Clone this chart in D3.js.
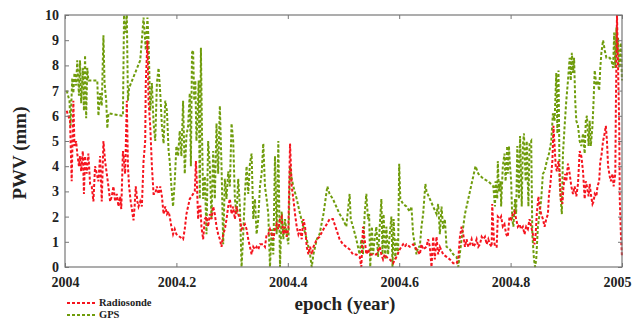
<!DOCTYPE html>
<html>
<head>
<meta charset="utf-8">
<script src="https://cdn.jsdelivr.net/npm/d3@7/dist/d3.min.js"></script>
<style>
  body { margin: 0; background: #fff; }
  svg { display: block; }
  .tick text { font-family: "Liberation Serif", "DejaVu Serif", serif; font-weight: bold; font-size: 14px; fill: #222; }
  .tick line { stroke: #777; }
</style>
</head>
<body>
<svg id="chart" width="632" height="321"></svg>
<script>
// epoch offsets are fractions of 2004, PWV in mm
const gpsT = [0.003,0.008,0.010,0.013,0.015,0.017,0.020,0.022,0.025,0.027,0.029,0.032,0.034,0.036,0.038,0.040,0.042,0.058,0.060,0.063,0.066,0.069,0.071,0.074,0.076,0.078,0.102,0.104,0.106,0.108,0.111,0.113,0.115,0.135,0.138,0.141,0.143,0.145,0.148,0.150,0.153,0.156,0.159,0.162,0.165,0.168,0.171,0.174,0.177,0.180,0.183,0.186,0.188,0.191,0.194,0.197,0.200,0.203,
  0.206,0.209,0.212,0.215,0.218,0.221,0.224,0.226,0.228,0.230,0.232,0.234,0.236,0.238,0.240,0.242,0.244,0.246,0.248,0.251,0.254,0.257,0.260,0.263,0.266,0.269,0.272,0.275,0.278,0.281,0.284,0.287,0.290,0.293,0.296,0.299,0.302,0.305,0.308,0.311,0.314,0.317,0.320,0.323,0.326,0.329,0.332,0.335,0.338,0.341,0.344,0.347,0.350,0.353,0.356,0.359,0.362,0.365,0.368,0.371,0.374,0.377,0.380,0.383,0.386,0.389,0.392,0.395,0.398,0.401,0.404,0.407,0.410,0.416,0.422,0.428,0.434,0.440,0.443,0.446,0.452,
  0.457,0.464,0.471,0.475,0.481,0.487,0.493,0.499,0.505,0.511,0.513,0.517,0.523,0.529,0.532,0.535,0.538,0.541,0.544,0.546,0.548,0.551,0.553,0.556,0.559,0.562,0.565,0.568,0.570,0.572,0.575,0.577,0.580,0.583,0.586,0.588,0.590,0.593,0.595,0.598,0.600,0.602,0.607,0.613,0.619,0.622,0.625,0.631,0.634,0.637,0.640,0.643,0.647,0.649,0.655,0.661,0.667,0.670,0.673,0.676,0.679,0.682,0.685,0.691,0.697,0.703,0.706,
  0.712,0.718,0.727,0.733,0.737,0.742,0.751,0.760,0.769,0.772,0.773,0.776,0.777,0.779,0.782,0.783,0.786,0.789,0.791,0.794,0.795,0.797,0.799,0.801,0.803,0.805,0.808,0.810,0.812,0.815,0.817,0.820,0.822,0.824,0.827,0.829,0.832,0.834,0.837,0.839,0.842,0.844,0.846,0.849,0.852,0.855,0.858,0.861,0.865,0.869,0.873,0.876,0.879,0.882,0.884,0.886,0.888,0.890,0.892,0.894,0.897,0.900,0.903,0.906,0.908,0.910,0.912,0.914,0.916,0.918,0.921,0.924,0.927,0.930,0.933,0.935,0.937,0.940,0.942,0.944,0.947,0.949,0.951,0.954,0.956,0.959,0.961,0.963,0.966,0.969,0.972,0.978,0.981,0.984,0.986,0.988,0.990,0.991,0.993,0.995,0.998,1.000];
const gpsV = [7.0,6.6,5.6,7.5,6.9,7.7,7.2,8.2,6.8,8.2,6.5,7.9,6.2,8.4,5.9,7.9,7.4,7.4,6.0,6.9,6.4,9.2,7.3,6.6,5.5,6.1,6.0,6.0,10.0,9.3,10.0,6.6,7.1,8.2,9.0,9.9,9.3,8.6,9.9,9.0,6.2,7.3,5.7,5.0,7.3,7.9,6.9,5.6,4.9,6.6,6.2,4.6,4.2,3.2,2.4,3.4,4.8,4.4,
  5.4,4.4,6.6,3.7,5.2,5.6,6.9,4.0,8.5,8.6,6.6,7.4,5.0,6.0,7.4,2.7,8.7,5.3,2.7,3.6,1.3,5.0,4.0,1.9,4.6,2.7,5.7,3.7,6.4,4.0,0.9,3.5,2.7,3.8,3.2,5.7,5.0,2.7,2.1,3.5,2.4,0,1.3,2.9,4.0,2.9,4.1,4.5,1.9,2.7,1.3,1.9,3.2,3.7,4.9,3.2,2.7,2.1,0,1.5,0.5,4.4,1.3,5.0,0,2.2,1.1,1.9,1.3,0.9,4.0,3.5,3.2,2.7,2.1,1.6,1.1,0.5,0,0.5,1.1,
  1.3,2.1,3.2,2.9,2.7,2.4,2.1,1.9,1.6,2.9,1.9,1.6,1.1,0.5,1.1,0.5,2.1,2.9,1.9,2.1,0,1.6,0.5,1.1,1.6,0.4,1.6,2.7,0.5,2.1,0.3,1.6,0.5,1.3,2.0,0,1.9,0.3,1.1,0.5,4.1,2.7,2.5,2.4,2.2,2.4,1.3,0.5,0.8,0.8,1.6,2.1,3.3,3.0,2.7,2.4,2.1,2.5,1.3,2.4,1.5,1.9,0.8,0.7,0.5,0.4,0,
  1.1,2.1,3.0,3.6,4.0,3.7,3.5,3.4,3.2,2.4,3.4,2.7,4.2,3.0,3.4,2.4,4.0,4.5,3.4,4.8,3.7,4.8,4.0,3.4,1.9,1.6,2.7,2.1,4.8,2.7,5.2,2.4,4.8,5.3,3.4,5.0,2.4,4.9,5.0,1.3,0.3,0,0.3,1.6,2.1,2.7,3.7,3.8,4.2,4.5,5.0,6.1,5.8,7.7,5.3,7.8,3.4,2.7,2.1,4.5,5.6,6.6,7.4,8.3,7.4,8.5,7.7,8.3,6.6,5.8,5.6,5.0,4.8,5.3,4.5,5.8,6.0,4.8,5.8,4.8,5.6,6.6,7.8,7.2,7.4,7.0,7.9,8.5,9.0,8.6,8.3,8.3,8.2,7.9,9.3,7.9,9.5,8.5,9.1,7.9,8.9,7.4];

const rsT = [0.003,0.006,0.009,0.012,0.015,0.017,0.020,0.022,0.025,0.027,0.029,0.032,0.034,0.036,0.039,0.042,0.045,0.048,0.051,0.054,0.057,0.060,0.063,0.066,0.069,0.072,0.075,0.078,0.081,0.084,0.087,0.090,0.093,0.096,0.099,0.101,0.104,0.106,0.108,0.111,0.113,0.115,0.118,0.120,0.123,0.125,0.127,0.130,0.132,0.135,0.138,0.141,0.144,0.145,0.148,0.150,0.153,0.156,0.159,0.162,0.165,0.168,0.171,0.174,0.177,0.180,0.183,0.186,0.188,0.191,0.194,0.197,0.200,0.206,
  0.212,0.215,0.218,0.221,0.224,0.227,0.230,0.233,0.235,0.237,0.239,0.241,0.243,0.245,0.248,0.251,0.254,0.257,0.260,0.263,0.266,0.269,0.272,0.275,0.278,0.281,0.284,0.287,0.290,0.293,0.296,0.299,0.302,0.305,0.308,0.311,0.314,0.317,0.320,0.323,0.326,0.329,0.332,0.335,0.338,0.341,0.344,0.347,0.350,0.356,0.359,0.362,0.365,0.368,0.371,0.374,0.377,0.380,0.383,0.386,0.389,0.392,0.395,0.398,0.401,0.404,0.407,0.410,0.413,0.416,0.419,0.422,0.425,0.428,0.431,0.434,0.437,0.440,0.443,0.446,0.452,
  0.457,0.464,0.470,0.475,0.481,0.487,0.493,0.499,0.505,0.511,0.517,0.523,0.529,0.532,0.535,0.538,0.541,0.544,0.547,0.553,0.559,0.565,0.568,0.571,0.574,0.577,0.583,0.589,0.595,0.601,0.607,0.610,0.613,0.619,0.625,0.631,0.637,0.640,0.643,0.649,0.652,0.655,0.658,0.661,0.664,0.667,0.670,0.673,0.679,0.685,0.691,0.697,0.703,0.706,
  0.709,0.712,0.715,0.718,0.721,0.724,0.727,0.730,0.733,0.736,0.739,0.742,0.745,0.748,0.751,0.754,0.757,0.760,0.763,0.766,0.767,0.770,0.772,0.775,0.777,0.781,0.783,0.786,0.789,0.792,0.795,0.798,0.801,0.804,0.807,0.810,0.813,0.816,0.819,0.822,0.825,0.828,0.831,0.834,0.837,0.840,0.843,0.845,0.847,0.850,0.852,0.855,0.858,0.861,0.864,0.867,0.869,0.871,0.873,0.875,0.877,0.879,0.881,0.883,0.886,0.888,0.890,0.893,0.895,0.898,0.900,0.903,0.906,0.909,0.912,0.915,0.918,0.921,0.924,0.927,0.930,0.933,0.935,0.937,0.940,0.942,0.944,0.947,0.949,0.951,0.954,0.956,0.959,0.961,0.963,0.966,0.968,0.971,0.973,0.975,0.978,0.980,0.983,0.985,0.988,0.989,0.991,0.993,0.995,0.996,0.998,1.000];
const rsV = [6.2,6.0,5.8,3.4,6.6,4.8,5.0,4.5,4.0,4.4,3.8,4.6,2.9,4.4,3.7,4.5,3.3,3.2,2.6,4.0,3.7,3.4,4.4,2.6,5.0,4.2,3.7,3.2,2.6,2.8,3.2,2.6,2.9,2.4,2.8,2.3,4.6,4.2,3.7,6.6,4.0,3.2,2.6,2.3,1.85,2.4,3.2,2.6,2.4,2.6,2.4,4.2,5.0,7.3,9.0,6.6,5.6,4.0,2.9,2.9,3.2,2.9,3.2,2.8,2.1,2.4,2.1,2.2,2.0,1.6,1.3,1.5,1.3,1.2,
  1.1,1.5,2.1,2.4,2.7,2.8,2.9,3.0,4.2,3.2,1.9,2.4,2.4,1.6,1.1,1.9,2.0,1.6,2.1,1.9,2.4,2.1,1.6,1.3,1.1,0.8,1.3,1.5,1.9,2.4,2.7,2.1,2.4,1.9,2.4,2.1,1.9,1.5,1.6,1.7,1.5,1.1,0.8,0.5,0.8,0.7,0.8,0.7,0.9,0.9,0.8,1.3,1.3,1.5,1.3,1.1,1.5,1.7,1.5,1.9,2.0,1.3,1.6,1.2,1.5,4.9,3.2,2.7,2.1,1.6,1.3,1.5,1.1,1.9,1.6,0.8,0.5,0.8,0.5,0.8,1.1,
  1.2,1.5,1.7,1.9,1.9,1.5,1.1,0.9,0.8,0.7,0.5,0.5,0.4,0,1.6,1.1,0.5,0.7,0.5,0.5,0.5,0.8,0.5,0.3,0.5,0.4,0.3,0.15,0.4,0.7,0.9,0.8,0.9,0.8,0.9,0.7,0.5,0.9,0.7,0.8,1.1,0.8,0,1.2,0.3,1.2,0.5,0.8,0.5,0.4,0.3,0.15,0.15,0.3,
  1.2,1.6,1.3,0.8,1.1,0.8,0.9,1.1,0.8,0.9,1.1,0.8,0.9,1.2,1.1,1.2,0.9,1.1,0.9,0.8,2.5,1.1,0.8,0.8,2.0,1.9,2.0,1.6,1.7,1.3,1.2,2.0,1.9,2.1,2.2,1.9,1.6,1.7,1.5,1.6,1.3,1.6,1.5,1.9,1.6,1.3,0.9,1.3,2.1,2.8,2.4,2.1,1.9,1.6,1.9,2.1,2.9,3.2,3.7,4.2,5.6,4.8,4.0,3.8,4.2,3.7,2.7,2.5,3.2,3.7,3.4,4.1,3.7,3.2,2.9,3.2,2.8,3.3,4.6,4.4,3.8,2.7,3.4,3.2,2.8,3.3,2.9,2.5,2.6,2.9,2.8,3.2,3.4,4.2,4.4,5.0,5.2,5.6,5.0,4.0,3.6,3.4,3.7,3.2,3.7,6.4,10.0,7.9,5.6,2.7,1.3,0.4];

const xTicks = [2004, 2004.2, 2004.4, 2004.6, 2004.8, 2005];
const xTickLabels = ['2004', '2004.2', '2004.4', '2004.6', '2004.8', '2005'];
const yTicks = [0, 1, 2, 3, 4, 5, 6, 7, 8, 9, 10];
const seriesNames = ['Radiosonde', 'GPS'];
const seriesColors = ['#f5141e', '#6f9c0c'];

const svg = d3.select('#chart');
const x = d3.scaleLinear().domain([2004, 2005]).range([65, 622]);
const y = d3.scaleLinear().domain([0, 10]).range([267, 15]);

const lineOf = (T, V) => d3.line()
  .x((d, i) => x(2004 + T[i]))
  .y((d, i) => y(V[i]))(V);

// GPS first, radiosonde drawn over it
svg.append('path')
  .attr('d', lineOf(gpsT, gpsV))
  .attr('fill', 'none')
  .attr('stroke', seriesColors[1])
  .attr('stroke-width', 2)
  .attr('stroke-dasharray', '3,2');

svg.append('path')
  .attr('d', lineOf(rsT, rsV))
  .attr('fill', 'none')
  .attr('stroke', seriesColors[0])
  .attr('stroke-width', 2)
  .attr('stroke-dasharray', '3,2');

// axes, ticks pointing inward
const fmt = (d, i) => xTickLabels[i];
svg.append('g').attr('transform', 'translate(0,267)')
  .call(d3.axisBottom(x).tickValues(xTicks).tickFormat(fmt).tickSize(-4).tickPadding(10))
  .call(g => g.select('.domain').remove())
  // last label sits against the page edge
  .call(g => g.selectAll('.tick:last-of-type text').attr('text-anchor', 'end').attr('x', 9));
svg.append('g').attr('transform', 'translate(0,15)')
  .call(d3.axisTop(x).tickValues(xTicks).tickFormat('').tickSize(-4))
  .call(g => g.select('.domain').remove());
svg.append('g').attr('transform', 'translate(65,0)')
  .call(d3.axisLeft(y).tickValues(yTicks).tickSize(-4).tickPadding(6))
  .call(g => g.select('.domain').remove());
svg.append('g').attr('transform', 'translate(622,0)')
  .call(d3.axisRight(y).tickValues(yTicks).tickFormat('').tickSize(-4))
  .call(g => g.select('.domain').remove());

svg.append('rect')
  .attr('x', 65).attr('y', 15).attr('width', 557).attr('height', 252)
  .attr('fill', 'none').attr('stroke', '#777').attr('stroke-width', 1.2);

// axis titles
svg.append('text')
  .attr('transform', 'translate(26,153) rotate(-90)')
  .attr('text-anchor', 'middle')
  .style('font-family', '"Liberation Serif", serif')
  .style('font-weight', 'bold')
  .style('font-size', '19px')
  .attr('fill', '#222')
  .text('PWV (mm)');

svg.append('text')
  .attr('x', 345).attr('y', 310)
  .attr('text-anchor', 'middle')
  .style('font-family', '"Liberation Serif", serif')
  .style('font-weight', 'bold')
  .style('font-size', '19px')
  .attr('fill', '#222')
  .text('epoch (year)');

// legend, squeezed so the second row stays inside the page
const legend = svg.append('g').attr('transform', 'translate(67,303)');
seriesNames.forEach((name, i) => {
  const g = legend.append('g').attr('transform', `translate(0,${i * 12})`);
  g.append('line').attr('x1', 0).attr('x2', 28)
    .attr('stroke', seriesColors[i]).attr('stroke-width', 2).attr('stroke-dasharray', '3,2');
  g.append('text').attr('x', 32).attr('y', 3)
    .style('font-family', '"Liberation Serif", serif')
    .style('font-weight', 'bold')
    .style('font-size', '10.5px')
    .attr('fill', '#222')
    .text(name);
});
</script>
</body>
</html>
